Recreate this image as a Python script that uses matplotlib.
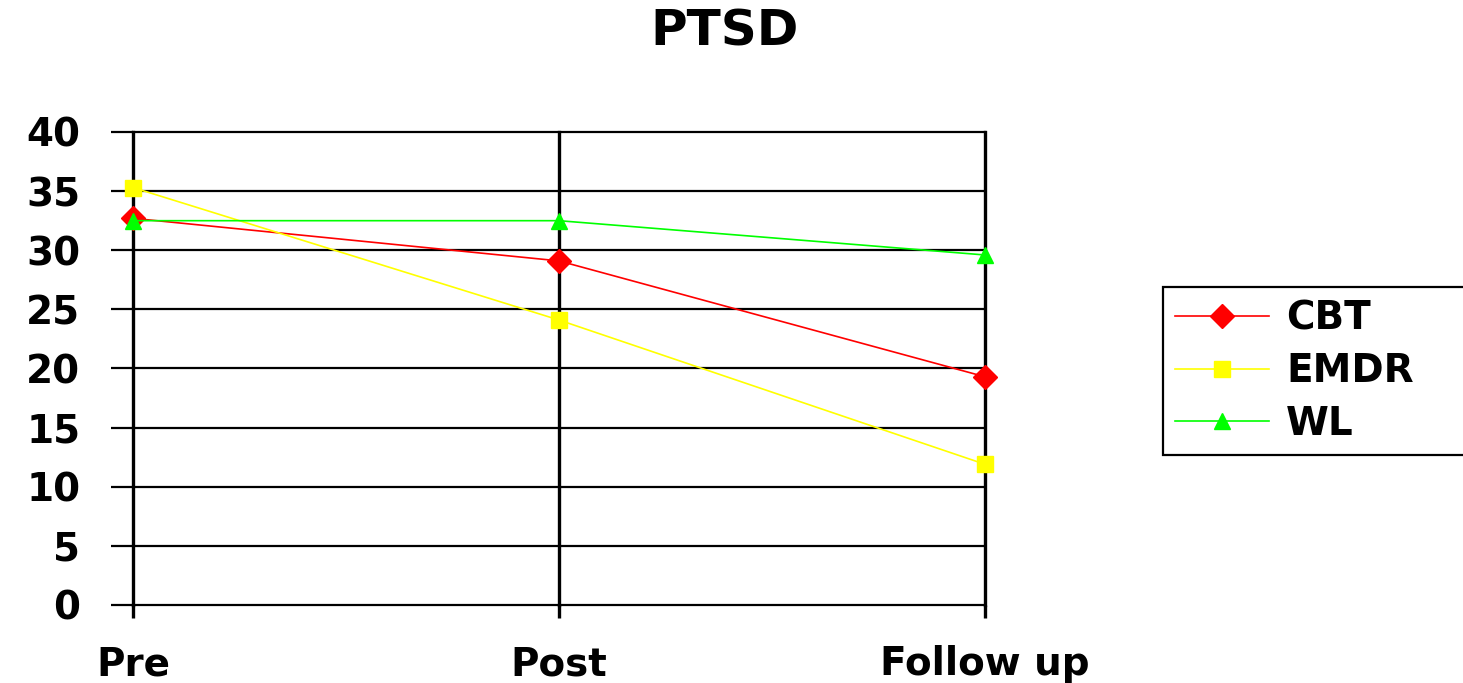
import numpy as np
import matplotlib
matplotlib.use('Agg')
import matplotlib.pyplot as plt
from matplotlib.lines import Line2D

plt.rcParams['font.family'] = ['DejaVu Sans']
plt.rcParams['font.weight'] = 'bold'

# 各阶段 PTSD 得分
stages = ['Pre', 'Post', 'Follow up']
cbt = [32.7, 29.1, 19.3]
emdr = [35.3, 24.1, 11.9]
wl = [32.5, 32.5, 29.6]
yticks = [0, 5, 10, 15, 20, 25, 30, 35, 40]

series = [
    ('CBT', cbt, '#ff0000', 'D'),
    ('EMDR', emdr, '#ffff00', 's'),
    ('WL', wl, '#00ff00', '^'),
]

fig = plt.figure(figsize=(14.63, 6.83), dpi=100)
ax = fig.add_axes([133/1463, 1-605/683, (985-133)/1463, (605-132)/683])

x = np.arange(len(stages))
for name, vals, col, mk in series:
    ax.plot(x, vals, color=col, lw=1.2, marker=mk, ms=12, mec=col, mfc=col,
            label=name, clip_on=False, zorder=5)

ax.set_xlim(0, len(stages) - 1)
ax.set_ylim(0, 40)
ax.set_xticks(x)
ax.set_xticklabels(stages)
ax.set_yticks(yticks)

for sp in ax.spines.values():
    sp.set_visible(False)

# 网格线（水平+竖直），边缘的线不裁剪
ax.grid(axis='y', color='black', lw=1.6)
ax.grid(axis='x', color='black', lw=2.4)
ax.set_axisbelow(True)
for gl in ax.get_xgridlines() + ax.get_ygridlines():
    gl.set_clip_on(False)

ax.tick_params(axis='y', direction='out', length=16, width=1.6, pad=22,
               labelsize=28)
ax.tick_params(axis='x', direction='out', length=9, width=2.4, pad=20,
               labelsize=28)

fig.suptitle('PTSD', x=725/1463, y=1-7/683, fontsize=36, fontweight='bold',
             va='top')

handles = [Line2D([0], [0], color=c, lw=1.2, marker=m, ms=12, mec=c, mfc=c)
           for _, _, c, m in series]
leg = fig.legend(handles, [s[0] for s in series], loc='upper left',
                 bbox_to_anchor=(1163/1463, 1-445/683, 310/1463, 158/683),
                 mode='expand', fontsize=28, handlelength=2.4,
                 handletextpad=0.45, labelspacing=0.38, borderpad=0.32,
                 borderaxespad=0, fancybox=False, framealpha=1)
leg.get_frame().set_edgecolor('black')
leg.get_frame().set_linewidth(1.6)

fig.savefig('out.png', dpi=100)
